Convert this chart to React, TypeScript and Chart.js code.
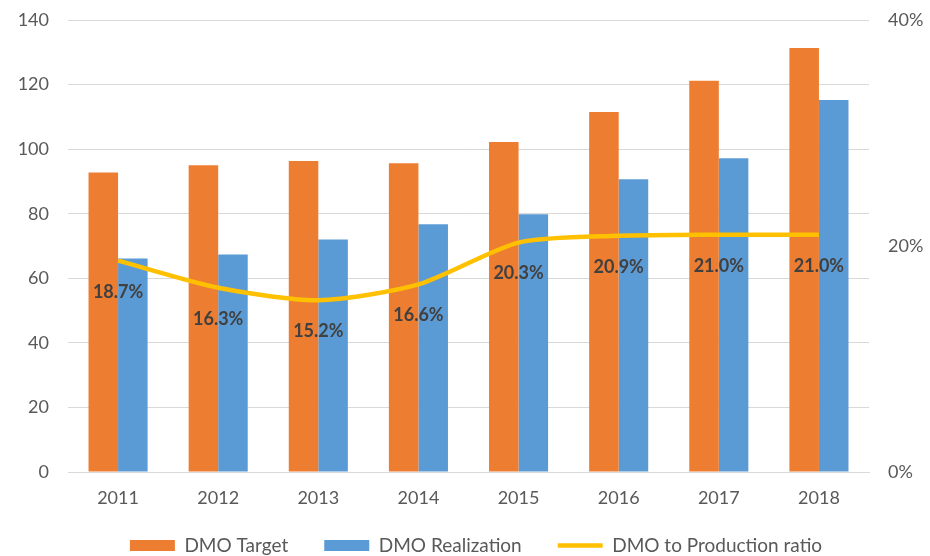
import React, { useEffect, useRef } from 'react';
import { Chart, registerables } from 'chart.js';

Chart.register(...registerables);

const years = ['2011', '2012', '2013', '2014', '2015', '2016', '2017', '2018'];
const dmoTarget = [92.8, 95.0, 96.3, 95.6, 102.2, 111.5, 121.2, 131.3];
const dmoRealization = [66.1, 67.4, 72.0, 76.7, 79.8, 90.7, 97.2, 115.2];
const productionRatio = [0.187, 0.163, 0.152, 0.166, 0.203, 0.209, 0.21, 0.21];
const ratioLabels = ['18.7%', '16.3%', '15.2%', '16.6%', '20.3%', '20.9%', '21.0%', '21.0%'];

const FONT = 'Lato, "Noto Sans", sans-serif';

const labelPlugin = {
  id: 'ratioLabels',
  afterLayout(chart: any) {
    const lg = chart.legend;
    if (lg) {
      lg.left += 11;
      lg.right += 11;
    }
  },
  afterDatasetsDraw(chart: any) {
    const meta = chart.getDatasetMeta(2);
    const ctx = chart.ctx;
    ctx.save();
    ctx.font = 'bold 18px ' + FONT;
    ctx.fillStyle = '#404040';
    ctx.textAlign = 'center';
    ctx.textBaseline = 'middle';
    meta.data.forEach((pt: any, i: number) => {
      ctx.fillText(ratioLabels[i], pt.x, pt.y + 31);
    });
    ctx.restore();
  },
};

export default function App() {
  const ref = useRef<HTMLCanvasElement | null>(null);
  useEffect(() => {
    if (!ref.current) return;
    const chart = new Chart(ref.current, {
      type: 'bar',
      data: {
        labels: years,
        datasets: [
          {
            type: 'bar',
            label: 'DMO Target',
            data: dmoTarget,
            backgroundColor: '#ED7D31',
            borderWidth: 0,
            yAxisID: 'y',
            order: 1,
            pointStyle: 'rect',
            categoryPercentage: 0.59,
            barPercentage: 1.0,
          } as any,
          {
            type: 'bar',
            label: 'DMO Realization',
            data: dmoRealization,
            backgroundColor: '#5B9BD5',
            borderWidth: 0,
            yAxisID: 'y',
            order: 1,
            pointStyle: 'rect',
            categoryPercentage: 0.59,
            barPercentage: 1.0,
          } as any,
          {
            type: 'line',
            label: 'DMO to Production ratio',
            data: productionRatio,
            borderColor: '#FFC000',
            backgroundColor: '#FFC000',
            borderWidth: 4.5,
            pointRadius: 0,
            pointStyle: 'line',
            tension: 0.25,
            yAxisID: 'y1',
            order: 0,
          } as any,
        ],
      },
      options: {
        animation: false,
        responsive: true,
        maintainAspectRatio: false,
        layout: { padding: { left: 0, right: 0, top: 20, bottom: -9 } },
        plugins: {
          tooltip: { enabled: false },
          legend: {
            position: 'bottom',
            labels: {
              usePointStyle: true,
              pointStyleWidth: 45,
              boxHeight: 11,
              padding: 36,
              color: '#595959',
              font: { family: FONT, size: 19 },
              sort: (a: any, b: any) => a.datasetIndex - b.datasetIndex,
            },
          },
        },
        scales: {
          x: {
            grid: { display: false, drawTicks: false },
            border: { display: true, color: '#d9d9d9', width: 1 },
            ticks: { color: '#595959', font: { family: FONT, size: 18 }, padding: 15 },
            afterFit: (s: any) => {
              s.height = 28;
              s._computeLabelArea = () => undefined;
            },
          },
          y: {
            position: 'left',
            min: 0,
            max: 140,
            ticks: { stepSize: 20, color: '#595959', font: { family: FONT, size: 18 }, padding: 19 },
            grid: { color: '#d9d9d9', drawTicks: false },
            border: { display: false },
            afterFit: (s: any) => {
              s.width = 68;
              s.paddingTop = 0;
              s.paddingBottom = 0;
            },
          },
          y1: {
            position: 'right',
            min: 0,
            max: 0.4,
            ticks: {
              stepSize: 0.2,
              color: '#595959',
              font: { family: FONT, size: 18 },
              padding: 19,
              callback: (v: any) => Math.round(Number(v) * 100) + '%',
            },
            grid: { display: false, drawTicks: false },
            border: { display: false },
            afterFit: (s: any) => {
              s.width = 61;
              s.paddingTop = 0;
              s.paddingBottom = 0;
            },
          },
        },
      },
      plugins: [labelPlugin],
    });
    return () => chart.destroy();
  }, []);
  return (
    <div style={{ position: 'absolute', left: 0, top: 0, width: 930, height: 556, background: '#fff' }}>
      <canvas ref={ref} />
    </div>
  );
}
